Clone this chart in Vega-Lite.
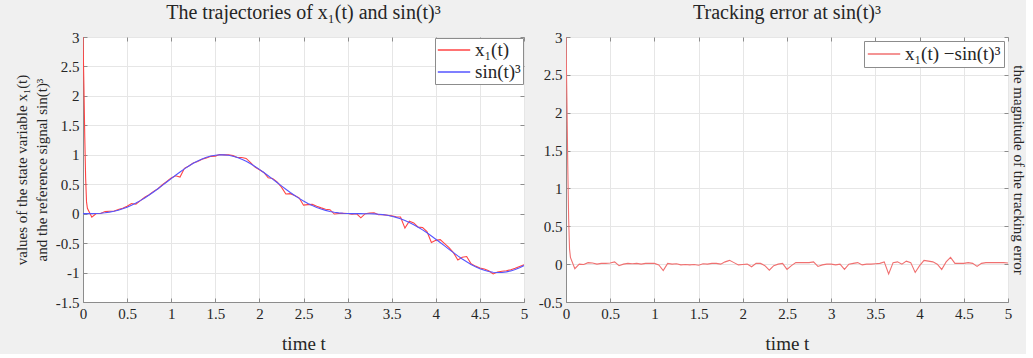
{
  "$schema": "https://vega.github.io/schema/vega-lite/v6.json",
  "background": "#f0f0f0",
  "padding": {"left": 13, "top": 2, "right": 0, "bottom": 0},
  "datasets": {
    "sim": [
      {"t": 0, "ref": 0, "err": 3.0, "x1": 3.0},
      {"t": 0.01, "ref": 0, "err": 2.2, "x1": 2.2},
      {"t": 0.02, "ref": 0, "err": 1.3, "x1": 1.3},
      {"t": 0.03, "ref": 0, "err": 0.6, "x1": 0.6},
      {"t": 0.04, "ref": 0.0001, "err": 0.2, "x1": 0.2},
      {"t": 0.05, "ref": 0.0001, "err": 0.09, "x1": 0.09},
      {"t": 0.1, "ref": 0.001, "err": -0.06, "x1": -0.059},
      {"t": 0.15, "ref": 0.0033, "err": 0.0, "x1": 0.0033},
      {"t": 0.2, "ref": 0.0078, "err": -0.005, "x1": 0.0028},
      {"t": 0.25, "ref": 0.0151, "err": 0.02, "x1": 0.0351},
      {"t": 0.3, "ref": 0.0258, "err": 0.015, "x1": 0.0408},
      {"t": 0.35, "ref": 0.0403, "err": 0.0, "x1": 0.0403},
      {"t": 0.4, "ref": 0.0591, "err": 0.01, "x1": 0.0691},
      {"t": 0.45, "ref": 0.0823, "err": 0.01, "x1": 0.0923},
      {"t": 0.5, "ref": 0.1102, "err": 0.015, "x1": 0.1252},
      {"t": 0.55, "ref": 0.1428, "err": 0.03, "x1": 0.1728},
      {"t": 0.6, "ref": 0.18, "err": -0.02, "x1": 0.16},
      {"t": 0.65, "ref": 0.2217, "err": 0.0, "x1": 0.2217},
      {"t": 0.7, "ref": 0.2674, "err": 0.01, "x1": 0.2774},
      {"t": 0.75, "ref": 0.3167, "err": 0.005, "x1": 0.3217},
      {"t": 0.8, "ref": 0.3692, "err": 0.01, "x1": 0.3792},
      {"t": 0.85, "ref": 0.424, "err": 0.0, "x1": 0.424},
      {"t": 0.9, "ref": 0.4807, "err": 0.01, "x1": 0.4907},
      {"t": 0.95, "ref": 0.5382, "err": 0.01, "x1": 0.5482},
      {"t": 1.0, "ref": 0.5958, "err": 0.01, "x1": 0.6058},
      {"t": 1.05, "ref": 0.6527, "err": -0.01, "x1": 0.6427},
      {"t": 1.1, "ref": 0.7079, "err": -0.085, "x1": 0.6229},
      {"t": 1.15, "ref": 0.7605, "err": 0.01, "x1": 0.7705},
      {"t": 1.2, "ref": 0.8097, "err": 0.0, "x1": 0.8097},
      {"t": 1.25, "ref": 0.8546, "err": 0.005, "x1": 0.8596},
      {"t": 1.3, "ref": 0.8946, "err": -0.01, "x1": 0.8846},
      {"t": 1.35, "ref": 0.9289, "err": -0.005, "x1": 0.9239},
      {"t": 1.4, "ref": 0.957, "err": -0.01, "x1": 0.947},
      {"t": 1.45, "ref": 0.9783, "err": -0.005, "x1": 0.9733},
      {"t": 1.5, "ref": 0.9925, "err": -0.015, "x1": 0.9775},
      {"t": 1.55, "ref": 0.9993, "err": 0.005, "x1": 1.0043},
      {"t": 1.6, "ref": 0.9987, "err": 0.0, "x1": 0.9987},
      {"t": 1.65, "ref": 0.9907, "err": 0.01, "x1": 1.0007},
      {"t": 1.7, "ref": 0.9752, "err": 0.01, "x1": 0.9852},
      {"t": 1.75, "ref": 0.9527, "err": 0.0, "x1": 0.9527},
      {"t": 1.8, "ref": 0.9236, "err": 0.03, "x1": 0.9536},
      {"t": 1.85, "ref": 0.8883, "err": 0.05, "x1": 0.9383},
      {"t": 1.9, "ref": 0.8474, "err": 0.02, "x1": 0.8674},
      {"t": 1.95, "ref": 0.8017, "err": -0.01, "x1": 0.7917},
      {"t": 2.0, "ref": 0.7518, "err": -0.005, "x1": 0.7468},
      {"t": 2.05, "ref": 0.6987, "err": 0.0, "x1": 0.6987},
      {"t": 2.1, "ref": 0.6432, "err": -0.035, "x1": 0.6082},
      {"t": 2.15, "ref": 0.5862, "err": 0.01, "x1": 0.5962},
      {"t": 2.2, "ref": 0.5285, "err": 0.01, "x1": 0.5385},
      {"t": 2.25, "ref": 0.471, "err": -0.02, "x1": 0.451},
      {"t": 2.3, "ref": 0.4147, "err": -0.08, "x1": 0.3347},
      {"t": 2.35, "ref": 0.3601, "err": -0.02, "x1": 0.3401},
      {"t": 2.4, "ref": 0.3082, "err": 0.0, "x1": 0.3082},
      {"t": 2.45, "ref": 0.2594, "err": 0.01, "x1": 0.2694},
      {"t": 2.5, "ref": 0.2144, "err": -0.07, "x1": 0.1444},
      {"t": 2.55, "ref": 0.1734, "err": -0.02, "x1": 0.1534},
      {"t": 2.6, "ref": 0.137, "err": 0.02, "x1": 0.157},
      {"t": 2.65, "ref": 0.1052, "err": 0.02, "x1": 0.1252},
      {"t": 2.7, "ref": 0.0781, "err": 0.02, "x1": 0.0981},
      {"t": 2.75, "ref": 0.0556, "err": 0.02, "x1": 0.0756},
      {"t": 2.8, "ref": 0.0376, "err": 0.03, "x1": 0.0676},
      {"t": 2.85, "ref": 0.0238, "err": -0.03, "x1": -0.0062},
      {"t": 2.9, "ref": 0.0137, "err": -0.01, "x1": 0.0037},
      {"t": 2.95, "ref": 0.0069, "err": 0.0, "x1": 0.0069},
      {"t": 3.0, "ref": 0.0028, "err": 0.0, "x1": 0.0028},
      {"t": 3.05, "ref": 0.0008, "err": -0.01, "x1": -0.0092},
      {"t": 3.1, "ref": 0.0001, "err": 0.0, "x1": 0.0001},
      {"t": 3.15, "ref": 0.0, "err": -0.07, "x1": -0.07},
      {"t": 3.2, "ref": -0.0002, "err": 0.0, "x1": -0.0002},
      {"t": 3.25, "ref": -0.0013, "err": 0.01, "x1": 0.0087},
      {"t": 3.3, "ref": -0.0039, "err": 0.02, "x1": 0.0161},
      {"t": 3.35, "ref": -0.0089, "err": -0.01, "x1": -0.0189},
      {"t": 3.4, "ref": -0.0167, "err": 0.0, "x1": -0.0167},
      {"t": 3.45, "ref": -0.028, "err": 0.0, "x1": -0.028},
      {"t": 3.5, "ref": -0.0432, "err": 0.005, "x1": -0.0382},
      {"t": 3.55, "ref": -0.0626, "err": 0.01, "x1": -0.0526},
      {"t": 3.6, "ref": -0.0867, "err": 0.03, "x1": -0.0567},
      {"t": 3.65, "ref": -0.1154, "err": -0.13, "x1": -0.2454},
      {"t": 3.7, "ref": -0.1487, "err": 0.02, "x1": -0.1287},
      {"t": 3.75, "ref": -0.1867, "err": 0.03, "x1": -0.1567},
      {"t": 3.8, "ref": -0.2291, "err": 0.0, "x1": -0.2291},
      {"t": 3.85, "ref": -0.2754, "err": 0.04, "x1": -0.2354},
      {"t": 3.9, "ref": -0.3253, "err": 0.02, "x1": -0.3053},
      {"t": 3.95, "ref": -0.3782, "err": -0.11, "x1": -0.4882},
      {"t": 4.0, "ref": -0.4335, "err": -0.02, "x1": -0.4535},
      {"t": 4.05, "ref": -0.4903, "err": 0.05, "x1": -0.4403},
      {"t": 4.1, "ref": -0.5479, "err": 0.04, "x1": -0.5079},
      {"t": 4.15, "ref": -0.6054, "err": 0.03, "x1": -0.5754},
      {"t": 4.2, "ref": -0.6621, "err": 0.0, "x1": -0.6621},
      {"t": 4.25, "ref": -0.7169, "err": -0.07, "x1": -0.7869},
      {"t": 4.3, "ref": -0.769, "err": 0.03, "x1": -0.739},
      {"t": 4.35, "ref": -0.8175, "err": 0.09, "x1": -0.7275},
      {"t": 4.4, "ref": -0.8617, "err": 0.01, "x1": -0.8517},
      {"t": 4.45, "ref": -0.9008, "err": 0.01, "x1": -0.8908},
      {"t": 4.5, "ref": -0.9341, "err": 0.01, "x1": -0.9241},
      {"t": 4.55, "ref": -0.961, "err": 0.02, "x1": -0.941},
      {"t": 4.6, "ref": -0.9812, "err": 0.01, "x1": -0.9712},
      {"t": 4.65, "ref": -0.9942, "err": -0.03, "x1": -1.0242},
      {"t": 4.7, "ref": -0.9998, "err": 0.01, "x1": -0.9898},
      {"t": 4.75, "ref": -0.9979, "err": 0.02, "x1": -0.9779},
      {"t": 4.8, "ref": -0.9885, "err": 0.02, "x1": -0.9685},
      {"t": 4.85, "ref": -0.9719, "err": 0.02, "x1": -0.9519},
      {"t": 4.9, "ref": -0.9483, "err": 0.02, "x1": -0.9283},
      {"t": 4.95, "ref": -0.9181, "err": 0.02, "x1": -0.8981},
      {"t": 5.0, "ref": -0.8818, "err": 0.015, "x1": -0.8668}
    ]
  },
  "config": {
    "font": "Liberation Serif",
    "view": {"stroke": "#8c8c8c", "fill": "white", "strokeWidth": 1},
    "axis": {
      "labelFont": "Liberation Serif",
      "labelFontSize": 15,
      "labelColor": "#262626",
      "titleFont": "Liberation Serif",
      "titleFontSize": 19,
      "titleFontWeight": "normal",
      "titleColor": "#262626",
      "gridColor": "#e6e6e6",
      "gridOpacity": 1,
      "domainColor": "#8c8c8c",
      "tickColor": "#8c8c8c",
      "tickSize": -4,
      "labelPadding": 8
    },
    "legend": {
      "fillColor": "white",
      "strokeColor": "#8c8c8c",
      "labelFont": "Liberation Serif",
      "labelFontSize": 19,
      "labelColor": "#262626",
      "symbolType": "M-1.8,0H1.8",
      "symbolStrokeWidth": 1.5,
      "symbolSize": 324,
      "symbolOffset": 7,
      "labelOffset": 11,
      "rowPadding": 2,
      "padding": 2
    },
    "title": {"font": "Liberation Serif", "fontSize": 20, "fontWeight": "normal", "color": "#262626", "offset": 7}
  },
  "spacing": 8,
  "resolve": {"scale": {"color": "independent"}, "legend": {"color": "independent"}},
  "hconcat": [
    {
      "width": 441,
      "height": 265,
      "title": "The trajectories of x₁(t) and sin(t)³",
      "data": {"name": "sim"},
      "layer": [
        {
          "mark": {"type": "line", "strokeWidth": 1.1, "clip": true},
          "encoding": {
            "x": {"field": "t", "type": "quantitative", "scale": {"domain": [0, 5], "nice": false},
              "axis": {"values": [0, 0.5, 1, 1.5, 2, 2.5, 3, 3.5, 4, 4.5, 5], "labelExpr": "'' + datum.value", "title": "time t", "titlePadding": 13, "labelFlush": false}},
            "y": {"field": "x1", "type": "quantitative", "scale": {"domain": [-1.5, 3], "nice": false},
              "axis": {"values": [-1.5, -1, -0.5, 0, 0.5, 1, 1.5, 2, 2.5, 3], "labelExpr": "'' + datum.value", "title": ["values of the state variable x₁(t)", "and the reference signal sin(t)³"], "titleFontSize": 15, "titleLineHeight": 20, "titlePadding": 6, "labelFlush": false}},
            "color": {"datum": "x₁(t)", "type": "nominal", "scale": {"domain": ["x₁(t)", "sin(t)³"], "range": ["#ff4444", "#5555ff"]},
              "legend": {"title": null, "orient": "top-right", "offset": 1}}
          }
        },
        {
          "mark": {"type": "line", "strokeWidth": 1.1, "clip": true},
          "encoding": {
            "x": {"field": "t", "type": "quantitative", "scale": {"domain": [0, 5], "nice": false},
              "axis": {"orient": "top", "values": [0, 0.5, 1, 1.5, 2, 2.5, 3, 3.5, 4, 4.5, 5], "labels": false, "title": null, "grid": false, "domain": false}},
            "y": {"field": "ref", "type": "quantitative", "scale": {"domain": [-1.5, 3], "nice": false},
              "axis": {"orient": "right", "values": [-1.5, -1, -0.5, 0, 0.5, 1, 1.5, 2, 2.5, 3], "labels": false, "title": null, "grid": false, "domain": false}},
            "color": {"datum": "sin(t)³", "type": "nominal"}
          }
        }
      ],
      "resolve": {"axis": {"x": "independent", "y": "independent"}}
    },
    {
      "width": 442,
      "height": 265,
      "title": "Tracking error at sin(t)³",
      "data": {"name": "sim"},
      "layer": [
        {
          "mark": {"type": "line", "strokeWidth": 1.1, "clip": true},
          "encoding": {
            "x": {"field": "t", "type": "quantitative", "scale": {"domain": [0, 5], "nice": false},
              "axis": {"values": [0, 0.5, 1, 1.5, 2, 2.5, 3, 3.5, 4, 4.5, 5], "labelExpr": "'' + datum.value", "title": "time t", "titlePadding": 13, "labelFlush": false}},
            "y": {"field": "err", "type": "quantitative", "scale": {"domain": [-0.5, 3], "nice": false},
              "axis": {"values": [-0.5, 0, 0.5, 1, 1.5, 2, 2.5, 3], "labelExpr": "'' + datum.value", "title": null, "labelFlush": false}},
            "color": {"datum": "x₁(t) −sin(t)³", "type": "nominal", "scale": {"range": ["#f07070"]},
              "legend": {"title": null, "orient": "top-right", "offset": 4, "padding": 3}}
          }
        },
        {
          "mark": {"type": "line", "strokeOpacity": 0},
          "encoding": {
            "x": {"field": "t", "type": "quantitative", "scale": {"domain": [0, 5], "nice": false},
              "axis": {"orient": "top", "values": [0, 0.5, 1, 1.5, 2, 2.5, 3, 3.5, 4, 4.5, 5], "labels": false, "title": null, "grid": false, "domain": false}},
            "y": {"field": "err", "type": "quantitative", "scale": {"domain": [-0.5, 3], "nice": false},
              "axis": {"orient": "right", "values": [-0.5, 0, 0.5, 1, 1.5, 2, 2.5, 3], "labels": false, "grid": false, "domain": false, "title": "the magnitude of the tracking error", "titleFontSize": 15, "titlePadding": 2}}
          }
        }
      ],
      "resolve": {"axis": {"x": "independent", "y": "independent"}}
    }
  ]
}
